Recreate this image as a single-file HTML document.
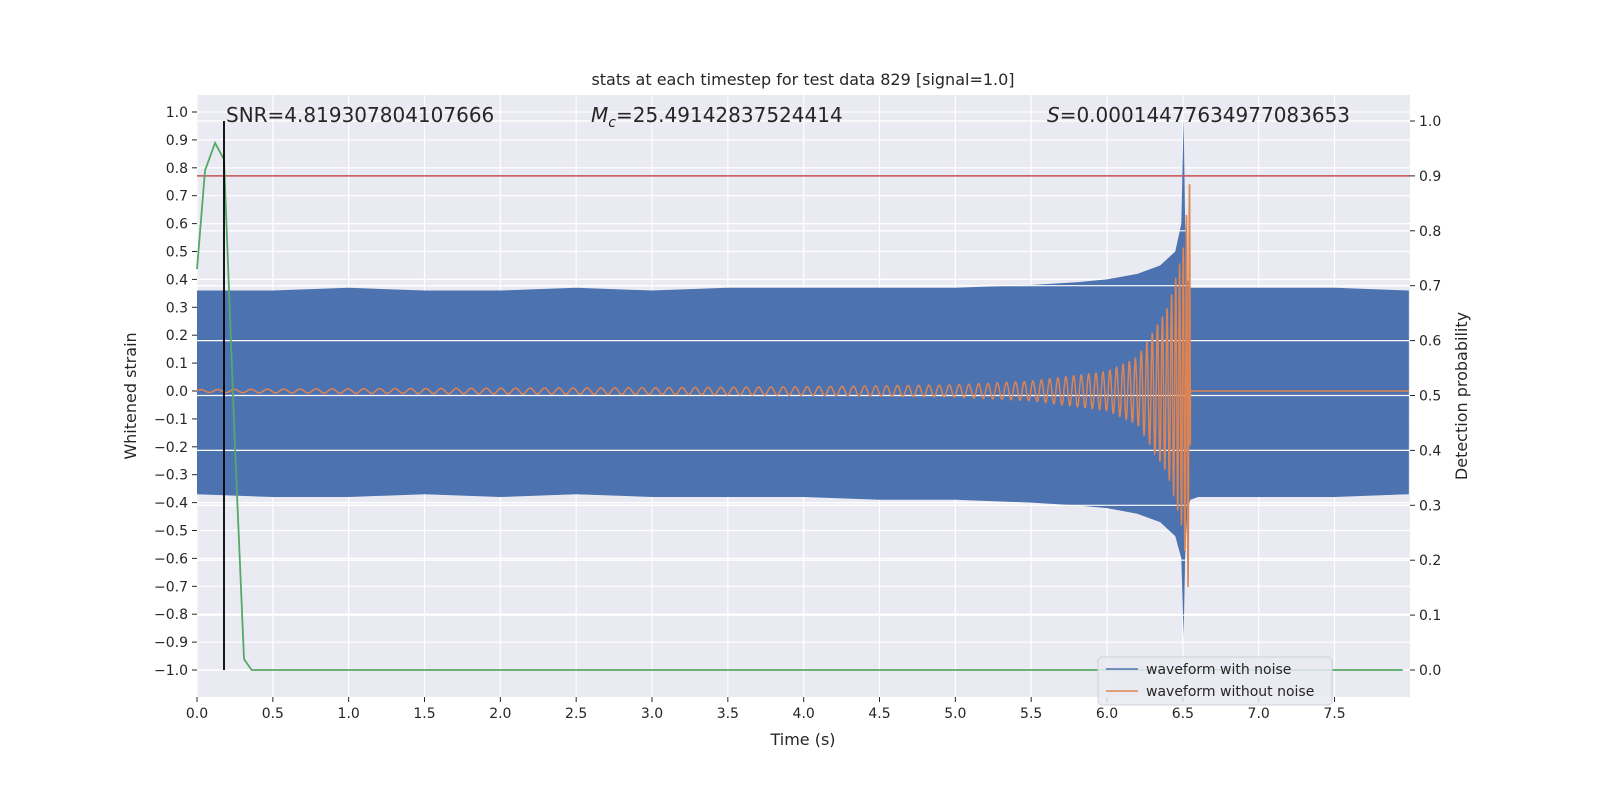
<!DOCTYPE html>
<html><head><meta charset="utf-8"><style>
html,body{margin:0;padding:0;background:#fff;overflow:hidden;width:1600px;height:800px}
svg{display:block}
svg text{font-family:"DejaVu Sans","Liberation Sans",sans-serif;fill:#262626}
</style></head><body>
<svg id="c" width="1600" height="800"></svg>
<script>
const tUpper=[0,0.5,1,1.5,2,2.5,3,3.5,4,4.5,5,5.5,5.8,6.0,6.2,6.35,6.45,6.49,6.505,6.515,6.53,6.55,6.6,7,7.5,8];
const upper=[0.36,0.36,0.37,0.36,0.36,0.37,0.36,0.37,0.37,0.37,0.37,0.38,0.39,0.4,0.42,0.45,0.5,0.6,0.98,0.6,0.4,0.37,0.37,0.37,0.37,0.36];
const lower=[-0.37,-0.38,-0.38,-0.37,-0.38,-0.37,-0.38,-0.38,-0.38,-0.39,-0.39,-0.4,-0.41,-0.42,-0.44,-0.47,-0.52,-0.6,-0.88,-0.6,-0.42,-0.39,-0.38,-0.38,-0.38,-0.37];
const tChirp=[0,1,2,3,4,5,5.5,6,6.2,6.4,6.5,6.55];
const chirpAmp=[0.005,0.008,0.01,0.012,0.015,0.022,0.035,0.07,0.12,0.3,0.5,0.8];
const tProb=[0,0.053,0.119,0.178,0.25,0.31,0.36,7.95];
const prob=[0.73,0.91,0.96,0.93,0.41,0.02,0,0];
const threshold=0.9, markerT=0.178;
const xTicks=[0,0.5,1,1.5,2,2.5,3,3.5,4,4.5,5,5.5,6,6.5,7,7.5];
const yTicks=[-1,-0.9,-0.8,-0.7,-0.6,-0.5,-0.4,-0.3,-0.2,-0.1,0,0.1,0.2,0.3,0.4,0.5,0.6,0.7,0.8,0.9,1];
const pTicks=[0,0.1,0.2,0.3,0.4,0.5,0.6,0.7,0.8,0.9,1];
const L=197,R=1410,T=95,B=697;
const X=t=>L+t*151.67, Y=v=>391-279*v, P=v=>670-549*v;
const svg=document.getElementById('c');const NS='http://www.w3.org/2000/svg';
function el(tag,attrs,parent){const e=document.createElementNS(NS,tag);for(const k in attrs)e.setAttribute(k,attrs[k]);(parent||svg).appendChild(e);return e;}
function interp(ts,vs,t){if(t<=ts[0])return vs[0];for(let i=1;i<ts.length;i++)if(t<=ts[i]){const f=(t-ts[i-1])/(ts[i]-ts[i-1]);return vs[i-1]+f*(vs[i]-vs[i-1]);}return vs[vs.length-1];}
let bg=el('rect',{x:L,y:T,width:R-L,height:B-T,fill:'#eaeaf2'});


yTicks.forEach(v=>{let g=el('line',{x1:L,x2:R,y1:Y(v),y2:Y(v),stroke:'#fff','stroke-width':1.2});});
pTicks.forEach(v=>{let g=el('line',{x1:L,x2:R,y1:P(v),y2:P(v),stroke:'#fff','stroke-width':1.2});});
xTicks.forEach(v=>{let g=el('line',{x1:X(v),x2:X(v),y1:T,y2:B,stroke:'#fff','stroke-width':1.2});});
let pts=[];for(let i=0;i<tUpper.length;i++)pts.push(X(Math.min(tUpper[i],7.99))+','+Y(upper[i]));
for(let i=tUpper.length-1;i>=0;i--)pts.push(X(Math.min(tUpper[i],7.99))+','+Y(lower[i]));
let band=el('polygon',{points:pts.join(' '),fill:'#4c72b0'});


// white grid lines faintly visible over band in reference (axes grid above): redraw right-axis grid lines
pTicks.forEach(v=>{let g=el('line',{x1:L,x2:R,y1:P(v),y2:P(v),stroke:'#fff','stroke-width':1.2});});
let d='',ph=0,t=0,dt=0.0015;
while(t<=6.55){const a=interp(tChirp,chirpAmp,t);const f=9*Math.pow(1-t/6.6,-0.375);ph+=2*Math.PI*f*dt;d+=(d?'L':'M')+X(t).toFixed(1)+','+Y(a*Math.sin(ph)).toFixed(1);t+=dt;}
d+='L'+X(6.55)+','+Y(0)+'L'+X(7.99)+','+Y(0);
let ch=el('path',{d:d,fill:'none',stroke:'#dd8452','stroke-width':1.5});


let rl=el('line',{x1:L,x2:R,y1:P(threshold),y2:P(threshold),stroke:'#c44e52','stroke-width':1.5});

let gp=el('polyline',{points:tProb.map((t,i)=>X(t)+','+P(prob[i])).join(' '),fill:'none',stroke:'#55a868','stroke-width':1.8});

let bl=el('line',{x1:X(markerT),x2:X(markerT),y1:P(1),y2:P(0),stroke:'#000','stroke-width':1.8});

function txt(x,y,s,attrs,name){const e=el('text',Object.assign({x:x,y:y},attrs));e.textContent=s;return e;}
xTicks.forEach(v=>{el('line',{x1:X(v),x2:X(v),y1:B,y2:B+5,stroke:'#262626'});txt(X(v),B+21,v.toFixed(1),{'font-size':14,'text-anchor':'middle'},'x-tick-label');});
yTicks.forEach(v=>{el('line',{x1:L-5,x2:L,y1:Y(v),y2:Y(v),stroke:'#262626'});txt(L-9,Y(v)+5,(v<0?'\u2212':'')+Math.abs(v).toFixed(1),{'font-size':14,'text-anchor':'end'},'y-tick-label');});
pTicks.forEach(v=>{el('line',{x1:R,x2:R+5,y1:P(v),y2:P(v),stroke:'#262626'});txt(R+9,P(v)+5,v.toFixed(1),{'font-size':14},'prob-tick-label');});
txt(803,85,'stats at each timestep for test data 829 [signal=1.0]',{'font-size':16,'text-anchor':'middle'},'chart-title');
txt(803,745,'Time (s)',{'font-size':16,'text-anchor':'middle'},'x-axis-title');
txt(136,396,'Whitened strain',{'font-size':16,'text-anchor':'middle',transform:'rotate(-90 136 396)'},'y-axis-title');
txt(1467,396,'Detection probability',{'font-size':16,'text-anchor':'middle',transform:'rotate(-90 1467 396)'},'y2-axis-title');
txt(226,122,'SNR=4.819307804107666',{'font-size':20},'snr-annotation');
const mc=txt(591,122,'',{'font-size':20},'chirp-mass-annotation');
mc.innerHTML='<tspan font-style="italic">M</tspan><tspan font-size="14" dy="5" font-style="italic">c</tspan><tspan dy="-5">=25.49142837524414</tspan>';
const sa=txt(1047,122,'',{'font-size':20},'s-annotation');
sa.innerHTML='<tspan font-style="italic">S</tspan>=0.00014477634977083653';
let lg=el('rect',{x:1098,y:657,width:234,height:48,rx:4,fill:'#eaeaf2','fill-opacity':0.85,stroke:'#d0d0d8'});

el('line',{x1:1106,x2:1138,y1:669,y2:669,stroke:'#4c72b0','stroke-width':1.5});
txt(1146,674,'waveform with noise',{'font-size':14},'legend-entry-noise');
el('line',{x1:1106,x2:1138,y1:691,y2:691,stroke:'#dd8452','stroke-width':1.5});
txt(1146,696,'waveform without noise',{'font-size':14},'legend-entry-clean');
</script></body></html>
